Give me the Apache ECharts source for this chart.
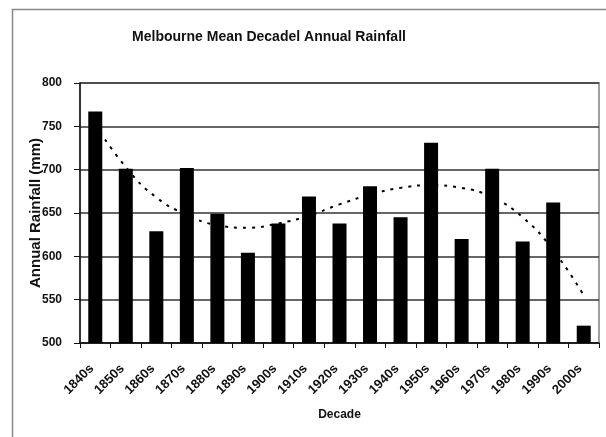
<!DOCTYPE html>
<html>
<head>
<meta charset="utf-8">
<script src="https://cdn.jsdelivr.net/npm/echarts@6/dist/echarts.min.js"></script>
<style>html,body{margin:0;padding:0;background:#fff;}#c{width:606px;height:437px;}</style>
</head>
<body>
<div id="c"></div>
<script>
const decades = ['1840s','1850s','1860s','1870s','1880s','1890s','1900s','1910s','1920s','1930s','1940s','1950s','1960s','1970s','1980s','1990s','2000s'];
const rainfall = [767, 701, 629, 702, 649, 604, 638, 669, 638, 681, 645, 731, 620, 701, 617, 662, 520];
const trend = [752, 703, 668, 648, 636, 633, 638, 647, 660, 671, 679, 682, 679, 668, 645, 607, 555];
const yTicks = [500, 550, 600, 650, 700, 750, 800];

const chart = echarts.init(document.getElementById('c'));
const font = 'Liberation Sans, Arial, sans-serif';
chart.setOption({
  animation: false,
  backgroundColor: '#fff',
  graphic: [{
    type: 'rect', shape: {x: 12.5, y: 9.5, width: 600, height: 440},
    style: {fill: 'none', stroke: '#888', lineWidth: 1.5}, silent: true, z: -1
  }, {
    type: 'rect', shape: {x: 80, y: 83, width: 519, height: 260},
    style: {fill: 'none', stroke: '#a0a0a0', lineWidth: 2}, silent: true, z: 0
  }],
  title: {
    text: 'Melbourne Mean Decadel Annual Rainfall',
    left: 264, top: 25, textAlign: 'center',
    textStyle: {fontFamily: font, fontSize: 14, fontWeight: 'bold', color: '#111'}
  },
  grid: {left: 80, right: 7, top: 83, bottom: 94},
  xAxis: {
    type: 'category', data: decades,
    name: 'Decade', nameLocation: 'middle', nameGap: 66, nameMoveOverlap: false,
    nameTextStyle: {fontFamily: font, fontSize: 12, fontWeight: 'bold', color: '#111'},
    axisLine: {lineStyle: {color: '#111', width: 1.5}},
    axisTick: {show: true, alignWithLabel: false, length: 5, lineStyle: {color: '#111'}},
    axisLabel: {rotate: 45, fontFamily: font, fontSize: 13, fontWeight: 'bold', color: '#111', margin: 20, padding: [0, 5, 0, 0]}
  },
  yAxis: {
    type: 'value', min: 500, max: 800, interval: 50,
    name: 'Annual Rainfall (mm)', nameLocation: 'middle', nameGap: 37, nameMoveOverlap: false,
    nameTextStyle: {fontFamily: font, fontSize: 15, fontWeight: 'bold', color: '#111'},
    axisLine: {show: true, lineStyle: {color: '#111', width: 1.5}},
    axisTick: {show: true, length: 6, lineStyle: {color: '#111'}},
    axisLabel: {fontFamily: font, fontSize: 12, fontWeight: 'bold', color: '#111', margin: 18,
      formatter: v => yTicks.includes(v) ? String(v) : ''},
    splitLine: {lineStyle: {color: '#333', width: 1.5}}
  },
  series: [{
    type: 'bar', data: rainfall, barWidth: 14,
    itemStyle: {color: '#000'}, z: 3
  }, {
    type: 'line', data: trend, smooth: true, symbol: 'none',
    lineStyle: {color: '#000', width: 2, type: [3, 6]}, z: 2
  }]
});
</script>
</body>
</html>
